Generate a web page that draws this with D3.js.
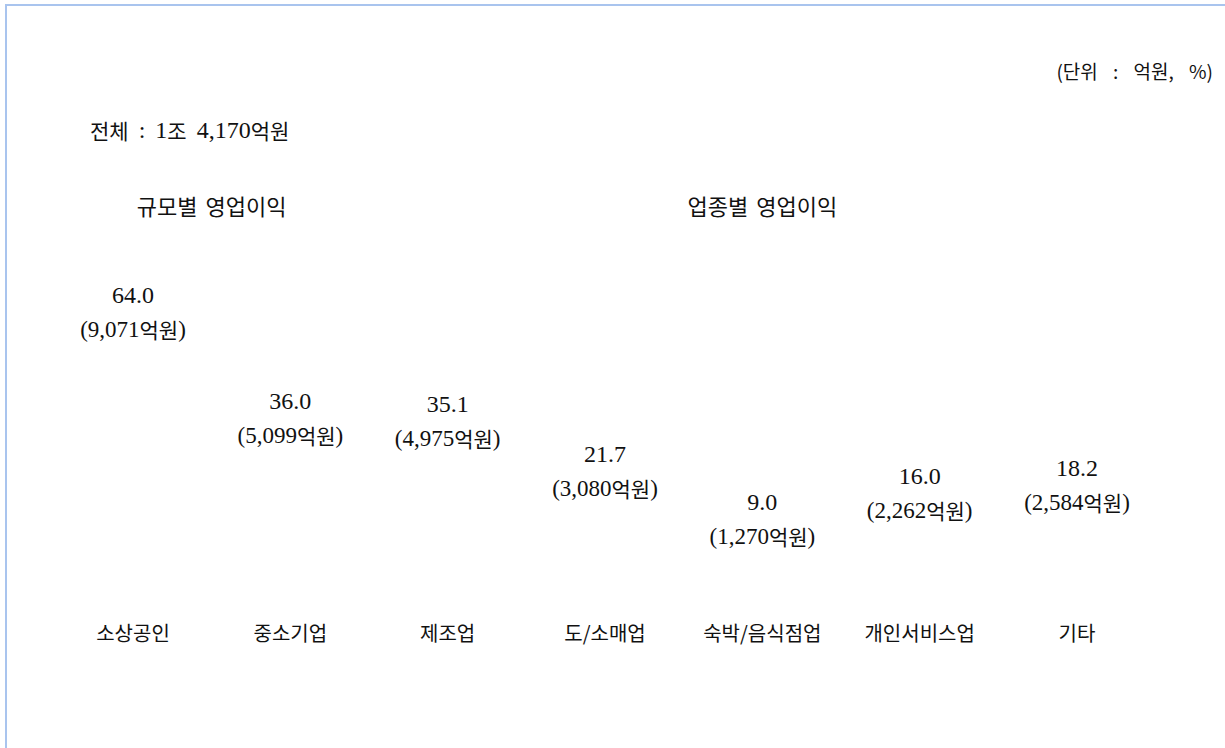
<!DOCTYPE html>
<html>
<head>
<meta charset="utf-8">
<script src="https://cdn.jsdelivr.net/npm/d3@7/dist/d3.min.js"></script>
<style>
  html, body { margin: 0; padding: 0; background: #fff; }
  svg { display: block; }
</style>
</head>
<body>
<svg id="chart"></svg>
<script>
// 영업이익 구성비 (규모별 / 업종별)
const categories = ["소상공인", "중소기업", "제조업", "도/소매업", "숙박/음식점업", "개인서비스업", "기타"];
const shares = [64.0, 36.0, 35.1, 21.7, 9.0, 16.0, 18.2];
const amounts = [9071, 5099, 4975, 3080, 1270, 2262, 2584];
const groupSize = ["소상공인", "중소기업"];
const groupIndustry = ["제조업", "도/소매업", "숙박/음식점업", "개인서비스업", "기타"];

const W = 1225, H = 748;
const svg = d3.select("#chart").attr("width", W).attr("height", H);

const serif = "'Liberation Serif', serif";
const sans = "'Noto Sans CJK KR', sans-serif";

// 한글은 고딕, 숫자/기호는 명조 느낌으로 나눠서 tspan 으로
function mixedText(sel, str, hSize, nSize) {
  const parts = str.match(/[\uac00-\ud7a3]+|[^\uac00-\ud7a3]+/g) || [];
  parts.forEach(p => {
    const isH = /[\uac00-\ud7a3]/.test(p);
    sel.append("tspan")
      .attr("font-family", isH ? sans : serif)
      .attr("font-size", isH ? hSize : nSize)
      .text(p);
  });
}

// 테두리 (위, 왼쪽)
svg.append("path")
  .attr("d", `M6,${H} L6,5 L${W},5`)
  .attr("fill", "none")
  .attr("stroke", "#a9c4ee")
  .attr("stroke-width", 2);

const x = d3.scalePoint()
  .domain(categories)
  .range([133, 1077]);

const y = d3.scaleLinear()
  .domain([0, 64])
  .range([600, 359.4]);

// 단위
svg.append("text")
  .attr("x", 1213)
  .attr("y", 70)
  .attr("text-anchor", "end")
  .attr("dominant-baseline", "central")
  .attr("font-family", sans)
  .attr("font-size", 19)
  .attr("word-spacing", 11)
  .attr("fill", "#111")
  .text("(단위 : 억원, %)");

const total = svg.append("text")
  .attr("x", 90)
  .attr("y", 130)
  .attr("dominant-baseline", "central")
  .attr("word-spacing", 4)
  .attr("fill", "#111");
mixedText(total, "전체 : 1조 4,170억원", 21, 24);

// 그룹 제목
const groups = [
  { label: "규모별 영업이익", items: groupSize },
  { label: "업종별 영업이익", items: groupIndustry }
];

svg.selectAll("text.group")
  .data(groups)
  .enter()
  .append("text")
    .attr("class", "group")
    .attr("x", d => (x(d.items[0]) + x(d.items[d.items.length - 1])) / 2)
    .attr("y", 205)
    .attr("text-anchor", "middle")
    .attr("dominant-baseline", "central")
    .attr("font-family", sans)
    .attr("font-size", 22)
    .attr("word-spacing", 3)
    .attr("fill", "#111")
    .text(d => d.label);

const fmt = d3.format(",");
const data = categories.map((c, i) => ({ cat: c, share: shares[i], amount: amounts[i] }));

const lbl = svg.selectAll("g.lbl")
  .data(data)
  .enter()
  .append("g")
    .attr("class", "lbl")
    .attr("transform", d => `translate(${x(d.cat)},0)`);

lbl.append("text")
  .attr("y", d => y(d.share) - 64)
  .attr("text-anchor", "middle")
  .attr("dominant-baseline", "central")
  .attr("font-family", serif)
  .attr("font-size", 24)
  .attr("fill", "#111")
  .text(d => d.share.toFixed(1));

lbl.append("text")
  .attr("y", d => y(d.share) - 30)
  .attr("text-anchor", "middle")
  .attr("dominant-baseline", "central")
  .attr("fill", "#111")
  .each(function(d) { mixedText(d3.select(this), `(${fmt(d.amount)}억원)`, 21, 23); });

// 항목 이름
lbl.append("text")
  .attr("y", 632)
  .attr("text-anchor", "middle")
  .attr("dominant-baseline", "central")
  .attr("font-family", sans)
  .attr("font-size", 20)
  .attr("fill", "#111")
  .text(d => d.cat);
</script>
</body>
</html>
